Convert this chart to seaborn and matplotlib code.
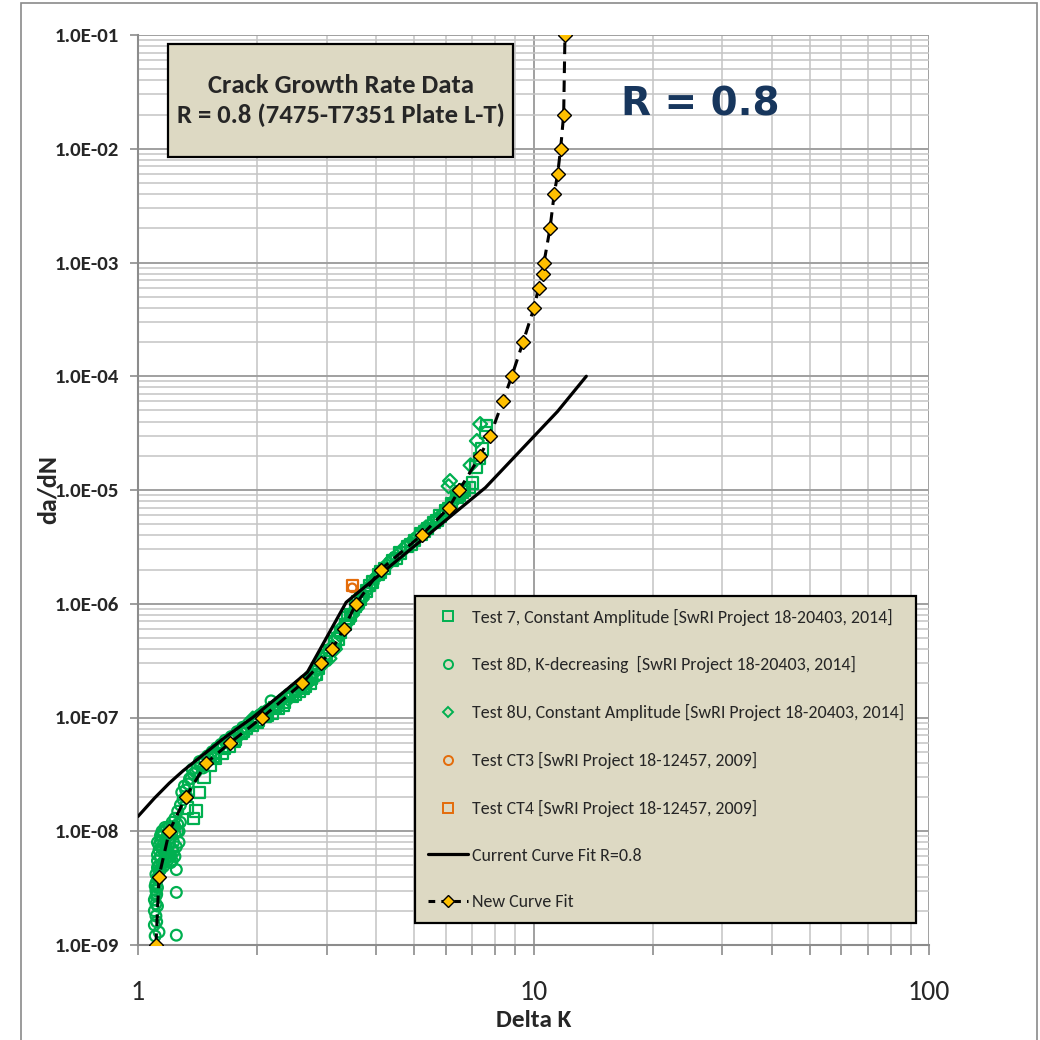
import matplotlib
matplotlib.use("Agg")
import matplotlib.pyplot as plt
from matplotlib import font_manager
from matplotlib.lines import Line2D
from matplotlib.patches import Rectangle
from matplotlib.ticker import FixedLocator, FixedFormatter, NullFormatter
import seaborn as sns

# ---------------------------------------------------------------- data
# New curve fit (da/dN vs Delta K)
new_fit_dk = [1.11, 1.13, 1.20, 1.32, 1.49, 1.71, 2.06, 2.60, 2.90, 3.10, 3.31,
              3.56, 4.11, 5.21, 6.11, 6.49, 7.33, 7.77, 8.36, 8.81, 9.41, 10.03,
              10.30, 10.55, 10.63, 11.01, 11.28, 11.51, 11.71, 11.92, 12.01]
new_fit_rate = [1e-9, 4e-9, 1e-8, 2e-8, 4e-8, 6e-8, 1e-7, 2e-7, 3e-7, 4e-7, 6e-7,
                1e-6, 2e-6, 4e-6, 7e-6, 1e-5, 2e-5, 3e-5, 6e-5, 1e-4, 2e-4, 4e-4,
                6e-4, 8e-4, 1e-3, 2e-3, 4e-3, 6e-3, 1e-2, 2e-2, 1e-1]

# Current curve fit R=0.8
cur_fit_dk = [1.0, 1.1, 1.2, 1.3, 1.45, 1.65, 1.95, 2.3, 2.68, 3.36, 7.56, 11.5, 13.6]
cur_fit_rate = [1.35e-8, 1.95e-8, 2.65e-8, 3.4e-8, 4.6e-8, 6.6e-8, 1.0e-7, 1.6e-7,
                2.5e-7, 1.03e-6, 1.05e-5, 4.9e-5, 1.0e-4]

# Test 7, constant amplitude
t7_dk = [1.33, 1.38, 1.40, 1.43, 1.47, 1.52, 1.57, 1.63, 1.70, 1.76, 1.82, 1.88,
         1.95, 2.02, 2.10, 2.18, 2.26, 2.35, 2.45, 2.55, 2.65, 2.75, 2.85, 2.95,
         3.05, 3.15, 3.25, 3.35, 3.45, 3.55, 3.65, 3.78, 3.92, 4.05, 4.20, 4.40,
         4.60, 4.80, 5.00, 5.20, 5.40, 5.60, 5.80, 6.00, 6.20, 6.40, 6.60, 6.70,
         6.90, 7.00, 7.15, 7.30, 7.40, 7.55, 7.60,
         1.55, 1.65, 1.75, 1.85, 2.00, 2.12, 2.22, 2.33, 2.50, 2.62, 2.72, 2.82,
         3.00, 3.20, 3.40, 3.60, 3.85, 4.10, 4.50, 4.90, 5.30, 5.70, 6.10, 6.50]
t7_rate = [1.6e-8, 1.3e-8, 1.5e-8, 2.2e-8, 3.0e-8, 3.8e-8, 4.4e-8, 4.8e-8, 5.6e-8,
           6.5e-8, 7.2e-8, 8.0e-8, 8.6e-8, 9.5e-8, 1.02e-7, 1.1e-7, 1.2e-7,
           1.35e-7, 1.55e-7, 1.7e-7, 1.9e-7, 2.2e-7, 2.7e-7, 3.3e-7, 3.9e-7,
           4.6e-7, 5.6e-7, 6.6e-7, 8.0e-7, 9.5e-7, 1.1e-6, 1.3e-6, 1.55e-6,
           1.8e-6, 2.05e-6, 2.4e-6, 2.8e-6, 3.2e-6, 3.6e-6, 4.1e-6, 4.6e-6,
           5.2e-6, 5.9e-6, 6.6e-6, 7.6e-6, 8.6e-6, 9.6e-6, 1.0e-5, 1.05e-5,
           1.15e-5, 1.6e-5, 1.9e-5, 2.3e-5, 3.2e-5, 3.7e-5,
           4.6e-8, 5.4e-8, 6.2e-8, 7.6e-8, 9.0e-8, 1.05e-7, 1.22e-7, 1.28e-7,
           1.6e-7, 1.8e-7, 2.0e-7, 2.4e-7, 3.5e-7, 4.9e-7, 7.5e-7, 1.05e-6,
           1.45e-6, 1.9e-6, 2.5e-6, 3.3e-6, 4.3e-6, 5.4e-6, 6.9e-6, 9.0e-6]

# Test 8D, K-decreasing
t8d_dk = [1.10, 1.10, 1.11, 1.10, 1.11, 1.11, 1.12, 1.11, 1.12, 1.12, 1.13, 1.12,
          1.13, 1.14, 1.13, 1.15, 1.14, 1.16, 1.15, 1.17, 1.18, 1.19, 1.20, 1.21,
          1.22, 1.23, 1.24, 1.16, 1.18, 1.20, 1.22, 1.24, 1.25, 1.25, 1.25, 1.26,
          1.28, 1.30, 1.32, 1.34, 1.36, 1.38, 1.41, 1.44, 1.47, 1.50, 1.54, 1.58,
          1.62, 1.66, 1.72, 1.78, 1.84, 1.90, 1.96, 2.03, 2.10, 2.17, 2.24, 2.32,
          2.40, 2.48, 2.56, 2.64, 2.72,
          1.12, 1.14, 1.15, 1.17, 1.19, 1.21, 1.23, 1.26, 1.27, 1.28, 1.24, 1.22,
          1.20, 1.18, 1.16, 1.13, 1.12, 1.11, 1.12, 1.13,
          1.29, 1.31, 1.33, 1.35, 1.37, 1.40, 1.43, 1.46, 1.52, 1.56, 1.60, 1.68,
          1.74, 1.80, 1.86, 1.92, 2.00, 2.06, 2.14, 2.20, 2.28, 2.36, 2.44, 2.52,
          2.60, 2.68, 2.76, 2.82,
          1.17, 1.19, 1.21, 1.23, 1.25, 1.27, 1.18, 1.20, 1.22, 1.24, 1.26, 1.15,
          1.14, 1.16, 1.19, 1.21, 1.105, 1.11, 1.115, 1.105, 1.12, 1.115]
t8d_rate = [1.5e-9, 2.0e-9, 1.8e-9, 2.5e-9, 3.0e-9, 3.5e-9, 3.2e-9, 4.2e-9, 4.8e-9,
            5.5e-9, 5.0e-9, 6.2e-9, 6.8e-9, 6.0e-9, 7.5e-9, 7.0e-9, 8.2e-9,
            7.8e-9, 9.0e-9, 8.5e-9, 7.2e-9, 6.5e-9, 7.8e-9, 8.8e-9, 7.0e-9,
            8.0e-9, 9.5e-9, 9.8e-9, 1.05e-8, 1.1e-8, 1.2e-8, 1.3e-8, 4.6e-9,
            2.9e-9, 1.22e-9, 1.5e-8, 1.7e-8, 1.9e-8, 2.3e-8, 2.6e-8, 2.9e-8,
            3.2e-8, 3.6e-8, 3.9e-8, 4.3e-8, 4.6e-8, 5.0e-8, 5.4e-8, 5.8e-8,
            6.3e-8, 6.8e-8, 7.5e-8, 8.2e-8, 8.8e-8, 9.5e-8, 1.05e-7, 1.13e-7,
            1.4e-7, 1.3e-7, 1.45e-7, 1.6e-7, 1.75e-7, 1.9e-7, 2.1e-7, 2.3e-7,
            8.0e-9, 9.2e-9, 1.0e-8, 1.08e-8, 9.8e-9, 1.05e-8, 1.1e-8, 1.15e-8,
            1.0e-8, 1.2e-8, 6.0e-9, 5.5e-9, 6.0e-9, 5.8e-9, 5.4e-9, 4.4e-9,
            3.8e-9, 2.7e-9, 2.2e-9, 1.3e-9,
            2.2e-8, 2.5e-8, 2.0e-8, 2.9e-8, 3.5e-8, 3.3e-8, 4.1e-8, 3.6e-8,
            4.3e-8, 4.8e-8, 5.4e-8, 6.0e-8, 6.4e-8, 7.0e-8, 7.9e-8, 8.4e-8,
            1.0e-7, 1.08e-7, 1.18e-7, 1.24e-7, 1.38e-7, 1.52e-7, 1.6e-7, 1.7e-7,
            1.85e-7, 2.0e-7, 2.15e-7, 2.3e-7,
            6.2e-9, 6.8e-9, 6.1e-9, 6.6e-9, 7.3e-9, 8.0e-9, 8.8e-9, 9.3e-9,
            9.8e-9, 1.1e-8, 1.0e-8, 5.2e-9, 4.6e-9, 4.9e-9, 5.6e-9, 5.3e-9,
            1.2e-9, 2.3e-9, 2.8e-9, 3.3e-9, 3.9e-9, 1.6e-9]

# Test 8U, constant amplitude
t8u_dk = [1.95, 2.05, 2.15, 2.25, 2.40, 2.55, 2.70, 2.80, 2.90, 3.00, 3.10, 3.20,
          3.30, 3.40, 3.50, 3.60, 3.70, 3.85, 4.00, 4.15, 4.30, 4.50, 4.70, 4.90,
          5.10, 5.30, 5.50, 5.70, 5.90, 6.10, 6.15, 6.10, 6.30, 6.50, 6.93, 7.19,
          7.33,
          2.85, 2.95, 3.05, 3.15, 3.22, 3.28, 3.38, 3.48, 3.58, 3.68, 3.78, 3.90,
          4.02, 4.12, 4.25, 4.38, 4.55, 4.75, 4.95, 5.15, 5.35, 5.60, 5.85, 6.05,
          6.25, 6.45]
t8u_rate = [9.8e-8, 1.08e-7, 1.15e-7, 1.25e-7, 1.45e-7, 1.8e-7, 2.1e-7, 2.5e-7,
            3.1e-7, 3.6e-7, 4.2e-7, 5.0e-7, 5.9e-7, 7.0e-7, 8.5e-7, 1.0e-6,
            1.15e-6, 1.4e-6, 1.7e-6, 2.0e-6, 2.25e-6, 2.6e-6, 3.0e-6, 3.4e-6,
            3.9e-6, 4.4e-6, 4.9e-6, 5.5e-6, 6.2e-6, 7.1e-6, 1.2e-5, 1.08e-5,
            8.1e-6, 9.2e-6, 1.65e-5, 2.7e-5, 3.8e-5,
            2.7e-7, 3.0e-7, 3.3e-7, 4.0e-7, 5.4e-7, 6.2e-7, 6.8e-7, 8.0e-7,
            9.2e-7, 1.1e-6, 1.3e-6, 1.5e-6, 1.75e-6, 1.95e-6, 2.2e-6, 2.45e-6,
            2.75e-6, 3.2e-6, 3.6e-6, 4.1e-6, 4.7e-6, 5.3e-6, 6.0e-6, 6.8e-6,
            7.8e-6, 8.8e-6]

# Tests CT3 / CT4
ct3_dk = [3.48]
ct3_rate = [1.38e-6]
ct4_dk = [3.48]
ct4_rate = [1.45e-6]

y_ticks = [1e-9, 1e-8, 1e-7, 1e-6, 1e-5, 1e-4, 1e-3, 1e-2, 1e-1]
y_tick_labels = ["1.0E-09", "1.0E-08", "1.0E-07", "1.0E-06", "1.0E-05",
                 "1.0E-04", "1.0E-03", "1.0E-02", "1.0E-01"]
x_ticks = [1, 10, 100]
x_tick_labels = ["1", "10", "100"]

legend_labels = [
    "Test 7, Constant Amplitude [SwRI Project 18-20403, 2014]",
    "Test 8D, K-decreasing  [SwRI Project 18-20403, 2014]",
    "Test 8U, Constant Amplitude [SwRI Project 18-20403, 2014]",
    "Test CT3 [SwRI Project 18-12457, 2009]",
    "Test CT4 [SwRI Project 18-12457, 2009]",
    "Current Curve Fit R=0.8",
    "New Curve Fit",
]

# ---------------------------------------------------------------- style
sns.set_theme(style="white")

# pick a narrow face when one is installed; scale sizes by its relative width
installed = {f.name for f in font_manager.fontManager.ttflist}
narrow_faces = [("Carlito", 0.88), ("Liberation Sans Narrow", 0.82),
                ("Roboto Condensed", 0.84), ("Liberation Sans", 1.0)]
FACE, WIDTH = "DejaVu Sans", 1.12
for name, w in narrow_faces:
    if name in installed:
        FACE, WIDTH = name, w
        break
plt.rcParams["font.family"] = [FACE, "DejaVu Sans"]


def fs(arial_pt):
    """Font size giving the same text width as Arial at arial_pt."""
    return arial_pt / WIDTH


GREEN = "#00B050"
ORANGE = "#E46C0A"
GOLD = "#FFC000"
TAN = "#DDD9C3"
NAVY = "#17365D"
GRID_MAJ = "#A0A0A0"
GRID_MIN = "#C4C4C4"

fig = plt.figure(figsize=(10.4, 10.4), dpi=100)
fig.patch.set_facecolor("white")
ax = fig.add_axes([138 / 1040, 1 - 945 / 1040, (929 - 138) / 1040, 910 / 1040])
ax.set_xscale("log")
ax.set_yscale("log")
ax.set_xlim(1, 100)
ax.set_ylim(1e-9, 1e-1)

# grid
ax.grid(which="major", color=GRID_MAJ, lw=1.4, zorder=0)
ax.grid(which="minor", color=GRID_MIN, lw=1.1, zorder=0)
ax.set_axisbelow(True)

# ---------------------------------------------------------------- data marks
sc_kw = dict(facecolor="none", linewidth=1.6, ax=ax, legend=False, zorder=2)
sns.scatterplot(x=t8d_dk, y=t8d_rate, marker="o", s=60, edgecolor=GREEN, **sc_kw)
sns.scatterplot(x=t7_dk, y=t7_rate, marker="s", s=68, edgecolor=GREEN, **sc_kw)
sns.scatterplot(x=t8u_dk, y=t8u_rate, marker="D", s=50, edgecolor=GREEN, **sc_kw)
sns.scatterplot(x=ct4_dk, y=ct4_rate, marker="s", s=60, edgecolor=ORANGE, **sc_kw)
sns.scatterplot(x=ct3_dk, y=ct3_rate, marker="o", s=38, edgecolor=ORANGE, **sc_kw)

sns.lineplot(x=cur_fit_dk, y=cur_fit_rate, color="black", lw=2.3, ax=ax,
             estimator=None, sort=False, zorder=3)
sns.lineplot(x=new_fit_dk, y=new_fit_rate, color="black", lw=2.2, ax=ax,
             estimator=None, sort=False, linestyle=(0, (3.8, 2.4)),
             marker="D", markersize=7.2, markerfacecolor=GOLD,
             markeredgecolor="black", markeredgewidth=1.0, zorder=4)

# ---------------------------------------------------------------- axes
ax.yaxis.set_major_locator(FixedLocator(y_ticks))
ax.yaxis.set_major_formatter(FixedFormatter(y_tick_labels))
ax.yaxis.set_minor_formatter(NullFormatter())
ax.xaxis.set_major_locator(FixedLocator(x_ticks))
ax.xaxis.set_major_formatter(FixedFormatter(x_tick_labels))
ax.xaxis.set_minor_formatter(NullFormatter())

ax.tick_params(axis="y", which="major", direction="out", length=6, width=1.2,
               color="#8C8C8C", left=True, pad=8, labelsize=fs(13.2))
ax.tick_params(axis="y", which="minor", left=False)
ax.tick_params(axis="x", which="both", direction="out", length=7, width=1.2,
               color="#8C8C8C", bottom=True, labelsize=fs(17.5))
ax.tick_params(axis="x", which="major", pad=18)
for lab in ax.get_yticklabels():
    lab.set_fontweight("bold")

for side in ("top", "right"):
    ax.spines[side].set_visible(False)
for side in ("left", "bottom"):
    ax.spines[side].set_color("#8C8C8C")
    ax.spines[side].set_linewidth(1.5)

ax.set_xlabel("Delta K", fontsize=fs(16), fontweight="bold", labelpad=4)
ax.set_ylabel("da/dN", fontsize=fs(16.5), fontweight="bold", labelpad=-4)

# title box
ax.add_patch(Rectangle(((168 - 138) / 791, (945 - 157) / 910),
                       (513 - 168) / 791, (157 - 44) / 910,
                       transform=ax.transAxes, facecolor=TAN,
                       edgecolor="black", lw=1.6, zorder=5))
ax.text((340.5 - 138) / 791, (945 - 100.5) / 910,
        "Crack Growth Rate Data\nR = 0.8 (7475-T7351 Plate L-T)",
        transform=ax.transAxes, ha="center", va="center", fontsize=fs(16.9),
        fontweight="bold", linespacing=1.3, zorder=6)

# big R label
ax.text((700 - 138) / 791, (945 - 105) / 910, "R = 0.8", transform=ax.transAxes,
        ha="center", va="center", fontsize=28, fontweight="bold", color=NAVY,
        family=["DejaVu Sans"], zorder=6)

# legend
handles = [
    Line2D([], [], ls="none", marker="s", ms=7, mfc="none", mec=GREEN, mew=1.4),
    Line2D([], [], ls="none", marker="o", ms=6.5, mfc="none", mec=GREEN, mew=1.4),
    Line2D([], [], ls="none", marker="D", ms=5.5, mfc="none", mec=GREEN, mew=1.4),
    Line2D([], [], ls="none", marker="o", ms=6.5, mfc="none", mec=ORANGE, mew=1.4),
    Line2D([], [], ls="none", marker="s", ms=7, mfc="none", mec=ORANGE, mew=1.4),
    Line2D([], [], color="black", lw=2.3),
    Line2D([], [], color="black", lw=2.2, ls=(0, (2.2, 2.0)), marker="D", ms=6.5,
           mfc=GOLD, mec="black", mew=1.0),
]
leg_fs = fs(11.35)
leg_px = leg_fs * 100 / 72
leg = ax.legend(handles, legend_labels, loc="upper left",
                bbox_to_anchor=((415 - 138) / 791, (945 - 596) / 910),
                borderaxespad=0, frameon=True, fancybox=False, framealpha=1,
                facecolor=TAN, edgecolor="black", fontsize=leg_fs,
                labelspacing=30.8 / leg_px, handlelength=40 / leg_px,
                handletextpad=4 / leg_px, borderpad=0.7)
leg.get_frame().set_linewidth(1.6)
leg.set_zorder(7)

# outer chart border
fig.add_artist(Rectangle((21 / 1040, -0.01), (1037 - 21) / 1040, 1.0 + 0.01 - 3 / 1040,
                         transform=fig.transFigure, fill=False,
                         edgecolor="#8A8A8A", lw=1.2))

fig.savefig("out.png", dpi=100, facecolor="white")
